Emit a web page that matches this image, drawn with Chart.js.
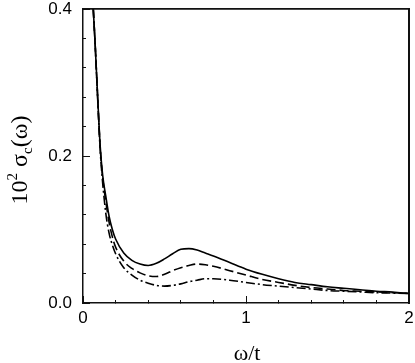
<!DOCTYPE html>
<html>
<head>
<meta charset="utf-8">
<script src="https://cdn.jsdelivr.net/npm/chart.js@4"></script>
<style>
  html, body { margin: 0; padding: 0; background: #fff; }
</style>
</head>
<body>
<canvas id="chart" width="415" height="363"></canvas>
<script>
// omega/t values shared by the three curves
const omega = [0.063, 0.075, 0.09, 0.105, 0.12, 0.14, 0.16, 0.18, 0.2, 0.25, 0.3, 0.35, 0.4, 0.45, 0.5, 0.55, 0.6, 0.65, 0.7, 0.75, 0.8, 0.9, 1.0, 1.1, 1.2, 1.3, 1.4, 1.5, 1.6, 1.7, 1.8, 1.9, 2.0];
const solid = [0.40, 0.35, 0.28, 0.215, 0.175, 0.145, 0.118, 0.100, 0.087, 0.068, 0.058, 0.053, 0.051, 0.054, 0.060, 0.067, 0.073, 0.074, 0.072, 0.068, 0.064, 0.055, 0.046, 0.039, 0.033, 0.028, 0.025, 0.022, 0.020, 0.018, 0.016, 0.015, 0.013];
const dashed = [0.40, 0.35, 0.28, 0.213, 0.172, 0.138, 0.110, 0.090, 0.076, 0.057, 0.047, 0.041, 0.037, 0.036, 0.039, 0.044, 0.048, 0.051, 0.053, 0.052, 0.050, 0.044, 0.038, 0.032, 0.028, 0.024, 0.021, 0.019, 0.017, 0.016, 0.015, 0.014, 0.013];
const dashDot = [0.40, 0.35, 0.278, 0.21, 0.165, 0.122, 0.095, 0.079, 0.067, 0.048, 0.038, 0.031, 0.027, 0.024, 0.023, 0.024, 0.026, 0.029, 0.031, 0.033, 0.033, 0.031, 0.028, 0.025, 0.023, 0.021, 0.019, 0.017, 0.016, 0.015, 0.014, 0.0135, 0.013];

const xMajor = [0, 1, 2];
const yMajor = [0.0, 0.2, 0.4];

const isMajor = (v, list) => list.some(m => Math.abs(v - m) < 1e-6);

const pts = arr => omega.map((x, i) => ({ x: x, y: arr[i] }));

const line = (label, arr, dash) => ({
    label: label,
    data: pts(arr),
    borderColor: '#000',
    borderWidth: 1.6,
    borderDash: dash,
    pointRadius: 0,
    fill: false,
    cubicInterpolationMode: 'monotone'
});

const frameColor = '#111';
const tickFont = { family: '"Liberation Sans", Arial, sans-serif', size: 17 };

const noRoom = s => {
    if (s.isHorizontal()) s.height = 0; else s.width = 0;
    s.paddingLeft = s.paddingRight = s.paddingTop = s.paddingBottom = 0;
};

// axis that only draws inward ticks (no labels, no room taken)
const tickAxis = (position, min, max, step, len, weight) => ({
    type: 'linear',
    display: true,
    position: position,
    min: min,
    max: max,
    weight: weight,
    grid: { display: true, drawOnChartArea: false, drawTicks: true, tickLength: -len, tickColor: frameColor, tickWidth: 1 },
    border: { display: false },
    ticks: { display: false, stepSize: step, autoSkip: false },
    afterFit: noRoom
});

// axis that only draws the top / right side of the frame
const borderAxis = (position, min, max) => ({
    type: 'linear',
    display: true,
    position: position,
    min: min,
    max: max,
    grid: { display: true, drawOnChartArea: false, drawTicks: false },
    border: { display: true, color: frameColor, width: 1.5 },
    ticks: { display: false },
    afterFit: noRoom
});

// frame backup and axis titles
const framePlugin = {
    id: 'frame',
    afterDraw(chart) {
        const ctx = chart.ctx;
        const a = chart.chartArea;
        const L = Math.round(a.left), R = Math.round(a.right);
        const T = Math.round(a.top), B = Math.round(a.bottom);
        ctx.save();
        ctx.fillStyle = frameColor;
        ctx.fillRect(L - 1, T - 1, R - L + 2, 1.5);
        ctx.fillRect(R - 0.5, T - 1, 1.5, B - T + 2);

        ctx.fillStyle = '#000';
        ctx.font = '22px "Liberation Serif", "Times New Roman", serif';
        ctx.textAlign = 'center';
        ctx.textBaseline = 'alphabetic';
        ctx.fillText('ω/t', (a.left + a.right) / 2 + 1, 360);

        // 10^2 sigma_c(omega), rotated
        const big = '24px "Liberation Serif", "Times New Roman", serif';
        const small = '15px "Liberation Serif", "Times New Roman", serif';
        const parts = [
            { t: '10', f: big, dy: 0 },
            { t: '2', f: small, dy: -10 },
            { t: ' σ', f: big, dy: 0 },
            { t: 'c', f: small, dy: 5 },
            { t: '(ω)', f: big, dy: 0 }
        ];
        let total = 0;
        parts.forEach(p => { ctx.font = p.f; p.w = ctx.measureText(p.t).width; total += p.w; });
        ctx.translate(27, 160);
        ctx.rotate(-Math.PI / 2);
        ctx.textAlign = 'left';
        let cx = -total / 2;
        parts.forEach(p => {
            ctx.font = p.f;
            ctx.fillText(p.t, cx, p.dy);
            cx += p.w;
        });
        ctx.restore();
    }
};

new Chart(document.getElementById('chart').getContext('2d'), {
    type: 'line',
    data: {
        datasets: [
            line('solid', solid, []),
            line('dashed', dashed, [9, 4]),
            line('dash-dot', dashDot, [9, 3, 2, 3])
        ]
    },
    options: {
        responsive: false,
        animation: false,
        layout: { padding: { top: 9, right: 6, left: 0, bottom: 0 } },
        plugins: {
            legend: { display: false },
            tooltip: { enabled: false }
        },
        scales: {
            x: {
                type: 'linear',
                min: 0,
                max: 2,
                weight: 1,
                grid: { display: true, drawOnChartArea: false, drawTicks: true, tickLength: -3, tickColor: frameColor, tickWidth: 1 },
                border: { display: true, color: frameColor, width: 1.5 },
                ticks: {
                    stepSize: 0.2,
                    autoSkip: false,
                    maxRotation: 0,
                    padding: 8,
                    color: '#000',
                    font: tickFont,
                    callback: v => isMajor(v, xMajor) ? String(Math.round(v)) : ''
                },
                afterFit: s => {
                    s.height = 60;
                    s.paddingLeft = 0;
                    s.paddingRight = 0;
                }
            },
            y: {
                type: 'linear',
                min: 0,
                max: 0.4,
                weight: 1,
                grid: { display: true, drawOnChartArea: false, drawTicks: true, tickLength: -3, tickColor: frameColor, tickWidth: 1 },
                border: { display: true, color: frameColor, width: 1.5 },
                ticks: {
                    stepSize: 0.04,
                    autoSkip: false,
                    padding: 14,
                    color: '#000',
                    font: tickFont,
                    callback: v => isMajor(v, yMajor) ? v.toFixed(1) : ''
                },
                afterFit: s => {
                    s.width = 83;
                    s.paddingTop = 0;
                    s.paddingBottom = 0;
                }
            },
            xMaj: tickAxis('bottom', 0, 2, 1, 7, 0),
            yMaj: tickAxis('left', 0, 0.4, 0.2, 7, 0),
            xTop: borderAxis('top', 0, 2),
            yRight: borderAxis('right', 0, 0.4)
        }
    },
    plugins: [framePlugin]
});
</script>
</body>
</html>
